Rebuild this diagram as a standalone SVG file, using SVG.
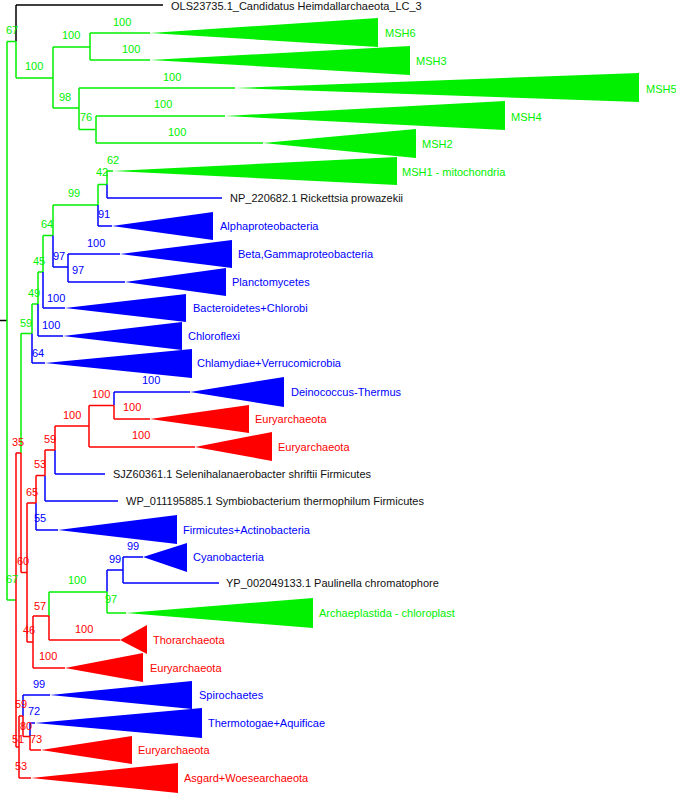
<svg xmlns="http://www.w3.org/2000/svg" width="676" height="794" viewBox="0 0 676 794">
<style>
text{font-family:"Liberation Sans",Arial,sans-serif;font-size:11px}
.g{stroke:#00f000}.b{stroke:#0000ff}.r{stroke:#ff0000}.k{stroke:#000}
#connectors path{fill:none;stroke-width:1.5}
.tg{fill:#00f000}.tb{fill:#0000ff}.tr{fill:#ff0000}.tk{fill:#111}
</style>
<rect width="676" height="794" fill="#fff"/>
<g id="connectors">
<path class="k" d="M0 320.5H7M16 5V41.5M16 5H163"/>
<path class="g" d="M7 41.5V600M7 41.5H16M7 600H16M16 41.5V78M16 78H53M53 47V108M53 47H90M90 33V60M90 33H150M90 60H150M53 108H79M79 88V129.5M79 88H235M79 129.5H96M96 116V143M96 116H225M96 143H263"/>
<path class="g" d="M21 333.5V453M21 333.5H32M32 304V333.5M32 304H38M38 272V304M38 272H43M43 235.5V272M43 235.5H53M53 205V235.5M53 205H98M98 184.5V205M98 184.5H107M107 171V184.5M107 171H113"/>
<path class="g" d="M49 592V616M49 592H107M107 591.5V613M107 613H126"/>
<path class="b" d="M107 184.5V198M107 198H222M98 205V226M98 226H112M53 235.5V267M53 267H68M68 254V282M68 254H120M68 282H125M43 272V308M43 308H65M38 304V336M38 336H63M32 333.5V363M32 363H45"/>
<path class="b" d="M114 392V405.5M114 392H190M55 450V474M55 474H105M45 475.5V501M45 501H118M36 503V530M36 530H58M107 570V591.5M107 570H123M123 557V583M123 557H143M123 583H219M23 695V716M23 695H50M30 723V736.5M30 723H35"/>
<path class="r" d="M16 453V747M16 453H21M21 453V572.5M21 572.5H27M27 503V642M27 503H36M36 475.5V503M36 475.5H45M45 450V475.5M45 450H55M55 426V450M55 426H89M89 405.5V447M89 405.5H114M114 405.5V419M114 419H150M89 447H195"/>
<path class="r" d="M27 642H33M33 616V668M33 616H49M49 616V640M49 640H120M33 668H65M16 747H19M19 716V778M19 716H23M23 716V736.5M23 736.5H30M30 736.5V750M30 750H41M19 778H31"/>
</g>
<g id="leaves">
<g id="OLS23735"><text class="tk" x="171" y="9.5">OLS23735.1_Candidatus Heimdallarchaeota_LC_3</text></g>
<g id="MSH6"><polygon class="tg" points="150,33 378,18 378,47"/><text class="tg" x="385" y="37">MSH6</text></g>
<g id="MSH3"><polygon class="tg" points="150,60 410,46 410,75"/><text class="tg" x="416" y="64.5">MSH3</text></g>
<g id="MSH5"><polygon class="tg" points="235,88 639,73 639,102"/><text class="tg" x="646" y="92.5">MSH5</text></g>
<g id="MSH4"><polygon class="tg" points="225,116 505,101 505,130"/><text class="tg" x="511" y="120.5">MSH4</text></g>
<g id="MSH2"><polygon class="tg" points="263,143 416,129 416,158"/><text class="tg" x="422" y="147.5">MSH2</text></g>
<g id="MSH1"><polygon class="tg" points="113,171 397,157 397,185"/><text class="tg" x="402" y="175.5">MSH1 - mitochondria</text></g>
<g id="NP_220682"><text class="tk" x="230" y="202">NP_220682.1 Rickettsia prowazekii</text></g>
<g id="Alphaproteobacteria"><polygon class="tb" points="112,226 213,212 213,240"/><text class="tb" x="220" y="230">Alphaproteobacteria</text></g>
<g id="BetaGamma"><polygon class="tb" points="120,254 232,240 232,268"/><text class="tb" x="238" y="258">Beta,Gammaproteobacteria</text></g>
<g id="Planctomycetes"><polygon class="tb" points="125,282 226,268 226,296"/><text class="tb" x="232" y="286">Planctomycetes</text></g>
<g id="Bacteroidetes"><polygon class="tb" points="65,308 186,294 186,322"/><text class="tb" x="193" y="312">Bacteroidetes+Chlorobi</text></g>
<g id="Chloroflexi"><polygon class="tb" points="63,336 182,322 182,350"/><text class="tb" x="188" y="340">Chloroflexi</text></g>
<g id="Chlamydiae"><polygon class="tb" points="45,363 192,349 192,378"/><text class="tb" x="197" y="367">Chlamydiae+Verrucomicrobia</text></g>
<g id="Deinococcus"><polygon class="tb" points="190,392 284,377 284,407"/><text class="tb" x="291" y="396">Deinococcus-Thermus</text></g>
<g id="Euryarchaeota1"><polygon class="tr" points="150,419 249,405 249,433"/><text class="tr" x="255" y="423">Euryarchaeota</text></g>
<g id="Euryarchaeota2"><polygon class="tr" points="195,447 272,432 272,461"/><text class="tr" x="278" y="451">Euryarchaeota</text></g>
<g id="SJZ60361"><text class="tk" x="113" y="478">SJZ60361.1 Selenihalanaerobacter shriftii Firmicutes</text></g>
<g id="WP_011195885"><text class="tk" x="126" y="505">WP_011195885.1 Symbiobacterium thermophilum Firmicutes</text></g>
<g id="Firmicutes"><polygon class="tb" points="58,530 177,515 177,544"/><text class="tb" x="183" y="534">Firmicutes+Actinobacteria</text></g>
<g id="Cyanobacteria"><polygon class="tb" points="143,557 187,543 187,572"/><text class="tb" x="193" y="561">Cyanobacteria</text></g>
<g id="YP_002049133"><text class="tk" x="226" y="587">YP_002049133.1 Paulinella chromatophore</text></g>
<g id="Archaeplastida"><polygon class="tg" points="126,613 313,598 313,628"/><text class="tg" x="319" y="617">Archaeplastida - chloroplast</text></g>
<g id="Thorarchaeota"><polygon class="tr" points="120,640 147,625 147,654"/><text class="tr" x="153" y="644">Thorarchaeota</text></g>
<g id="Euryarchaeota3"><polygon class="tr" points="65,668 143,653 143,682"/><text class="tr" x="150" y="672">Euryarchaeota</text></g>
<g id="Spirochaetes"><polygon class="tb" points="50,695 192,681 192,709"/><text class="tb" x="199" y="699">Spirochaetes</text></g>
<g id="Thermotogae"><polygon class="tb" points="35,723 202,708 202,738"/><text class="tb" x="208" y="727">Thermotogae+Aquificae</text></g>
<g id="Euryarchaeota4"><polygon class="tr" points="41,750 132,736 132,764"/><text class="tr" x="138" y="754">Euryarchaeota</text></g>
<g id="Asgard"><polygon class="tr" points="31,778 178,763 178,793"/><text class="tr" x="184" y="782">Asgard+Woesearchaeota</text></g>
</g>
<g id="support">
<text class="tg" x="6" y="33.5">67</text>
<text class="tg" x="25" y="70">100</text>
<text class="tg" x="62" y="38.5">100</text>
<text class="tg" x="113" y="25.5">100</text>
<text class="tg" x="122" y="52.5">100</text>
<text class="tg" x="59" y="101">98</text>
<text class="tg" x="163" y="80.5">100</text>
<text class="tg" x="80" y="121">76</text>
<text class="tg" x="154" y="107.5">100</text>
<text class="tg" x="168" y="136">100</text>
<text class="tg" x="107" y="163.5">62</text>
<text class="tg" x="96" y="176">42</text>
<text class="tg" x="68" y="196.5">99</text>
<text class="tb" x="98" y="217.5">91</text>
<text class="tg" x="41" y="227.5">64</text>
<text class="tb" x="87" y="246.5">100</text>
<text class="tb" x="53" y="259.5">97</text>
<text class="tb" x="72" y="273.5">97</text>
<text class="tg" x="33" y="264.5">45</text>
<text class="tg" x="28" y="296.5">49</text>
<text class="tb" x="47" y="301.5">100</text>
<text class="tg" x="20" y="326.5">59</text>
<text class="tb" x="42" y="328.5">100</text>
<text class="tb" x="32" y="356.5">64</text>
<text class="tb" x="142" y="383.5">100</text>
<text class="tr" x="92" y="397.5">100</text>
<text class="tr" x="123" y="411">100</text>
<text class="tr" x="63" y="418.5">100</text>
<text class="tr" x="132" y="438.5">100</text>
<text class="tr" x="12" y="445.5">35</text>
<text class="tr" x="44" y="442.5">59</text>
<text class="tr" x="34" y="467.5">53</text>
<text class="tr" x="26" y="495.5">65</text>
<text class="tb" x="34" y="522">55</text>
<text class="tb" x="127" y="549.5">99</text>
<text class="tb" x="109" y="562.5">99</text>
<text class="tr" x="17" y="564.5">60</text>
<text class="tg" x="68" y="583.5">100</text>
<text class="tg" x="6" y="582.5">67</text>
<text class="tg" x="105" y="602.5">97</text>
<text class="tr" x="34" y="609.5">57</text>
<text class="tr" x="23" y="633.5">46</text>
<text class="tr" x="75" y="632.5">100</text>
<text class="tr" x="39" y="659.5">100</text>
<text class="tb" x="33" y="687.5">99</text>
<text class="tr" x="15" y="707.5">59</text>
<text class="tb" x="28" y="714.5">72</text>
<text class="tr" x="20" y="729.5">80</text>
<text class="tr" x="12" y="742.5">51</text>
<text class="tr" x="30" y="742.5">73</text>
<text class="tr" x="15" y="769.5">53</text>
</g>
</svg>
